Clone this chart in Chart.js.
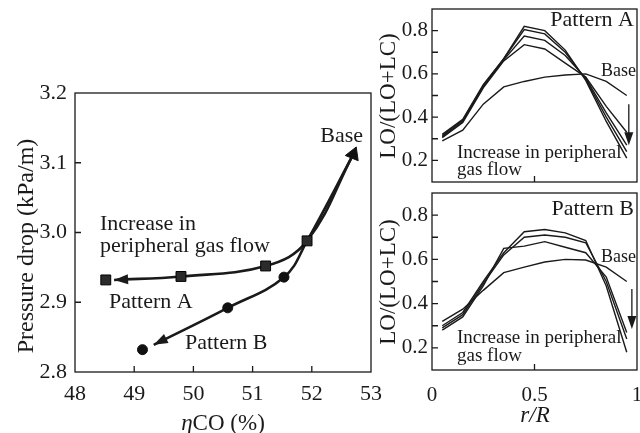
<!DOCTYPE html>
<html>
<head>
<meta charset="utf-8">
<script src="https://cdn.jsdelivr.net/npm/chart.js@4.4.1/dist/chart.umd.min.js"></script>
<style>
  html, body { margin: 0; padding: 0; background: #fff; }
  #wrap { position: relative; width: 640px; height: 433px; overflow: hidden; }
  canvas { position: absolute; }
</style>
</head>
<body>
<div id="wrap">
  <canvas id="left" width="385" height="433" style="left:0;top:0"></canvas>
  <canvas id="rtop" width="278" height="190" style="left:372px;top:0"></canvas>
  <canvas id="rbot" width="278" height="243" style="left:372px;top:190px"></canvas>
</div>
<script>
// ---- left panel: pressure drop vs eta CO ----
const etaTicks = [49, 50, 51, 52];
const dpTicks = [2.9, 3.0, 3.1];
const baseEta = [52.7];
const baseDp = [3.112];
const squareEta = [51.92, 51.22, 49.79, 48.52];
const squareDp = [2.988, 2.952, 2.937, 2.932];
const circleEta = [51.53, 50.58, 49.14];
const circleDp = [2.936, 2.892, 2.832];
const curveAEta = [52.7, 51.92, 51.22, 49.79, 48.66];
const curveADp = [3.112, 2.988, 2.952, 2.937, 2.932];
const curveBEta = [52.7, 51.92, 51.53, 50.58, 49.33];
const curveBDp = [3.112, 2.988, 2.936, 2.892, 2.839];

// ---- right panels: LO/(LO+LC) vs r/R ----
const rR = [0.05, 0.15, 0.25, 0.35, 0.45, 0.55, 0.65, 0.75, 0.85, 0.95];
const rTicks = [0.5];
const loTicks = [0.2, 0.3, 0.4, 0.5, 0.6, 0.7, 0.8];
const loLabels = [0.2, 0.4, 0.6, 0.8];
const baseA = [0.29, 0.34, 0.46, 0.54, 0.565, 0.585, 0.595, 0.60, 0.565, 0.50];
const patA1 = [0.32, 0.39, 0.55, 0.67, 0.82, 0.80, 0.71, 0.57, 0.38, 0.21];
const patA2 = [0.315, 0.385, 0.545, 0.67, 0.805, 0.785, 0.70, 0.575, 0.40, 0.24];
const patA3 = [0.31, 0.38, 0.54, 0.665, 0.775, 0.755, 0.685, 0.58, 0.42, 0.27];
const patA4 = [0.305, 0.375, 0.535, 0.66, 0.735, 0.715, 0.65, 0.585, 0.45, 0.33];
const baseB = [0.32, 0.375, 0.46, 0.54, 0.565, 0.588, 0.60, 0.597, 0.565, 0.50];
const patB1 = [0.30, 0.36, 0.50, 0.63, 0.725, 0.735, 0.72, 0.685, 0.48, 0.18];
const patB2 = [0.29, 0.35, 0.49, 0.62, 0.70, 0.71, 0.70, 0.675, 0.50, 0.24];
const patB3 = [0.28, 0.34, 0.48, 0.65, 0.66, 0.68, 0.655, 0.63, 0.52, 0.27];

const SERIF = '"Liberation Serif", "Times New Roman", serif';
const INK = '#1a1a1a';

const pts = (xs, ys) => xs.map((x, i) => ({ x: x, y: ys[i] }));

// frame, inward ticks, texts and arrows, drawn over the datasets
function decor(cfg) {
  const ox = cfg.offsetX || 0, oy = cfg.offsetY || 0;
  return {
    id: 'decor',
    afterDatasetsDraw(chart) {
      const { ctx, chartArea: a, scales } = chart;
      ctx.save();
      ctx.strokeStyle = INK;
      ctx.lineWidth = 1.3;
      ctx.strokeRect(a.left, a.top, a.right - a.left, a.bottom - a.top);
      ctx.beginPath();
      cfg.xTicks.forEach(v => {
        const x = scales.x.getPixelForValue(v);
        ctx.moveTo(x, a.bottom);
        ctx.lineTo(x, a.bottom - 6);
      });
      cfg.yTicks.forEach(v => {
        const y = scales.y.getPixelForValue(v);
        ctx.moveTo(a.left, y);
        ctx.lineTo(a.left + 6, y);
      });
      ctx.stroke();

      // arrowheads at the end of flagged curves
      chart.data.datasets.forEach((ds, i) => {
        if (!ds.arrowEnd) return;
        const els = chart.getDatasetMeta(i).data;
        const p = els[els.length - 1];
        const q = els[els.length - 2];
        const useCp = p.cp1x !== undefined && Math.hypot(p.x - p.cp1x, p.y - p.cp1y) > 2;
        head(ctx, useCp ? p.cp1x : q.x, useCp ? p.cp1y : q.y, p.x, p.y, 14, 5);
      });

      // vertical arrows in data space
      (cfg.arrows || []).forEach(ar => {
        const x = scales.x.getPixelForValue(ar.x);
        const y0 = scales.y.getPixelForValue(ar.from);
        const y1 = scales.y.getPixelForValue(ar.to);
        ctx.lineWidth = 1.3;
        ctx.beginPath();
        ctx.moveTo(x, y0);
        ctx.lineTo(x, y1 - 10);
        ctx.stroke();
        head(ctx, x, y0, x, y1, 13, 4.5);
      });

      // texts, given in page coordinates
      ctx.fillStyle = INK;
      cfg.notes.forEach(n => {
        ctx.save();
        ctx.translate(n.x - ox, n.y - oy);
        if (n.rotate) ctx.rotate(n.rotate);
        ctx.textBaseline = n.baseline || 'alphabetic';
        const parts = n.parts || [{ t: n.text }];
        const fonts = parts.map(pt => (pt.italic ? 'italic ' : '') + n.size + 'px ' + SERIF);
        let total = 0;
        const widths = parts.map((pt, i) => { ctx.font = fonts[i]; const w = ctx.measureText(pt.t).width; total += w; return w; });
        let x = n.align === 'right' ? -total : n.align === 'center' ? -total / 2 : 0;
        ctx.textAlign = 'left';
        parts.forEach((pt, i) => { ctx.font = fonts[i]; ctx.fillText(pt.t, x, 0); x += widths[i]; });
        ctx.restore();
      });
      ctx.restore();
    }
  };
}

function head(ctx, fx, fy, tx, ty, len, half) {
  const d = Math.hypot(tx - fx, ty - fy) || 1;
  const ux = (tx - fx) / d, uy = (ty - fy) / d;
  const bx = tx - ux * len, by = ty - uy * len;
  ctx.beginPath();
  ctx.moveTo(tx, ty);
  ctx.lineTo(bx - uy * half, by + ux * half);
  ctx.lineTo(bx + uy * half, by - ux * half);
  ctx.closePath();
  ctx.fillStyle = INK;
  ctx.fill();
}

// pin the axis boxes so the plot areas land where the figure has them
const fixWidth = w => scale => { scale.width = w; scale.paddingTop = 0; scale.paddingBottom = 0; };
const fixHeight = h => scale => { scale.height = h; scale.paddingLeft = 0; scale.paddingRight = 0; };

// ---- left chart ----
new Chart(document.getElementById('left'), {
  type: 'scatter',
  data: {
    datasets: [
      { data: pts(squareEta, squareDp), pointStyle: 'rect', pointRadius: 7, backgroundColor: '#2b2b2b', borderColor: '#000', borderWidth: 1, order: 0 },
      { data: pts(circleEta, circleDp), pointStyle: 'circle', pointRadius: 5, backgroundColor: '#111', borderColor: '#111', borderWidth: 1, order: 0 },
      { data: pts(baseEta, baseDp), pointStyle: 'triangle', pointRadius: 8, rotation: 22, backgroundColor: '#111', borderColor: '#111', borderWidth: 1, order: 0 },
      { data: pts(curveAEta, curveADp), showLine: true, tension: 0.4, borderColor: INK, borderWidth: 2.6, pointRadius: 0, arrowEnd: true, order: 1 },
      { data: pts(curveBEta, curveBDp), showLine: true, tension: 0.4, borderColor: INK, borderWidth: 2.6, pointRadius: 0, arrowEnd: true, order: 1 }
    ]
  },
  options: {
    responsive: false,
    animation: false,
    layout: { padding: { top: 93, right: 14, left: 0, bottom: 0 } },
    scales: {
      x: {
        type: 'linear', min: 48, max: 53,
        ticks: { stepSize: 1, padding: 1, autoSkip: false, color: INK, font: { family: SERIF, size: 22 } },
        grid: { display: false }, border: { display: false },
        afterFit: fixHeight(61)
      },
      y: {
        min: 2.8, max: 3.2,
        ticks: { stepSize: 0.1, padding: 0, autoSkip: false, color: INK, font: { family: SERIF, size: 22 }, callback: v => v.toFixed(1) },
        grid: { display: false }, border: { display: false },
        afterFit: fixWidth(75)
      }
    },
    plugins: { legend: { display: false }, tooltip: { enabled: false } }
  },
  plugins: [decor({
    xTicks: etaTicks, yTicks: dpTicks,
    notes: [
      { text: 'Base', x: 363, y: 142, size: 22, align: 'right' },
      { text: 'Increase in', x: 100, y: 230, size: 22 },
      { text: 'peripheral gas flow', x: 100, y: 252, size: 22 },
      { text: 'Pattern A', x: 109, y: 308, size: 22 },
      { text: 'Pattern B', x: 185, y: 349, size: 22 },
      { text: 'Pressure drop (kPa/m)', x: 27, y: 246, size: 24, align: 'center', rotate: -Math.PI / 2, baseline: 'middle' },
      { parts: [{ t: '\u03B7', italic: true }, { t: 'CO (%)' }], x: 223, y: 430, size: 23, align: 'center' }
    ]
  })]
});

// ---- right panels ----
function profileChart(id, base, cases, opts) {
  const lines = [base].concat(cases).map(vals => ({
    data: pts(rR, vals), borderColor: INK, borderWidth: 1.4, pointRadius: 0, tension: 0
  }));
  return new Chart(document.getElementById(id), {
    type: 'line',
    data: { datasets: lines },
    options: {
      responsive: false,
      animation: false,
      layout: { padding: { top: opts.padTop, right: 13, left: 0, bottom: 0 } },
      scales: {
        x: {
          type: 'linear', min: 0, max: 1,
          ticks: { display: opts.showX, stepSize: 0.5, padding: 5, autoSkip: false, color: INK, font: { family: SERIF, size: 21 },
                   callback: v => String(v) },
          grid: { display: false }, border: { display: false },
          afterFit: fixHeight(opts.xHeight)
        },
        y: {
          min: 0.1, max: 0.9,
          ticks: { stepSize: 0.1, padding: -4, autoSkip: false, color: INK, font: { family: SERIF, size: 21 },
                   callback: v => loLabels.some(t => Math.abs(t - v) < 1e-6) ? v.toFixed(1) : '' },
          grid: { display: false }, border: { display: false },
          afterFit: fixWidth(60)
        }
      },
      plugins: { legend: { display: false }, tooltip: { enabled: false } }
    },
    plugins: [decor({
      offsetX: 372, offsetY: opts.offsetY,
      xTicks: rTicks, yTicks: loTicks,
      arrows: [opts.arrow],
      notes: opts.notes
    })]
  });
}

profileChart('rtop', baseA, [patA1, patA2, patA3, patA4], {
  padTop: 9, xHeight: 8, showX: false, offsetY: 0,
  arrow: { x: 0.96, from: 0.46, to: 0.27 },
  notes: [
    { text: 'Pattern A', x: 634, y: 26, size: 22, align: 'right' },
    { text: 'Base', x: 636, y: 76, size: 18, align: 'right' },
    { text: 'Increase in peripheral', x: 457, y: 158, size: 19 },
    { text: 'gas flow', x: 457, y: 175, size: 19 },
    { text: 'LO/(LO+LC)', x: 389, y: 96, size: 23, align: 'center', rotate: -Math.PI / 2, baseline: 'middle' }
  ]
});

profileChart('rbot', baseB, [patB1, patB2, patB3], {
  padTop: 3, xHeight: 63, showX: true, offsetY: 190,
  arrow: { x: 0.975, from: 0.466, to: 0.285 },
  notes: [
    { text: 'Pattern B', x: 634, y: 215, size: 22, align: 'right' },
    { text: 'Base', x: 636, y: 262, size: 18, align: 'right' },
    { text: 'Increase in peripheral', x: 457, y: 343, size: 19 },
    { text: 'gas flow', x: 457, y: 361, size: 19 },
    { text: 'LO/(LO+LC)', x: 389, y: 282, size: 23, align: 'center', rotate: -Math.PI / 2, baseline: 'middle' },
    { parts: [{ t: 'r/R', italic: true }], x: 535, y: 422, size: 23, align: 'center' }
  ]
});
</script>
</body>
</html>
